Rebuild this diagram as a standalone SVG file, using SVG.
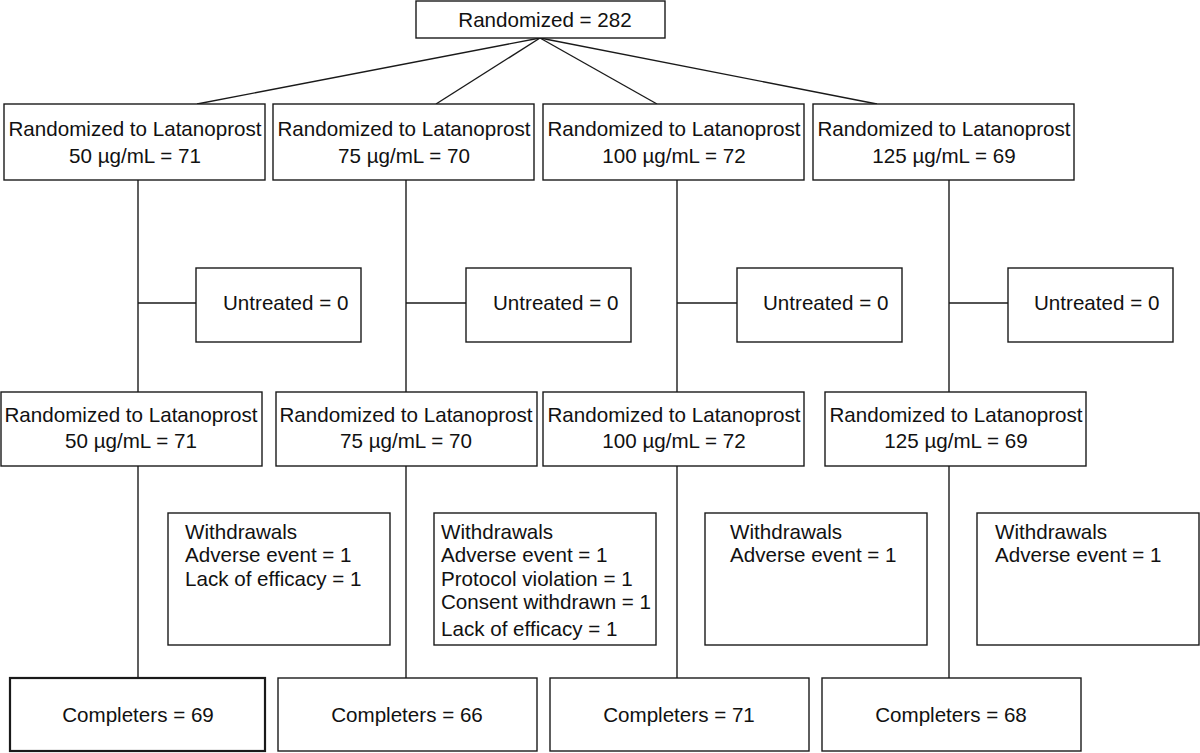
<svg xmlns="http://www.w3.org/2000/svg" width="1200" height="753" viewBox="0 0 1200 753">
<style>
rect{fill:#fff;stroke:#1a1a1a;stroke-width:1.4}
.c line{stroke:#1a1a1a;stroke-width:1.4}
text{font-family:"Liberation Sans",Arial,sans-serif;font-size:20.6px;fill:#111}
.m{text-anchor:middle}
</style>
<rect x="0" y="0" width="1200" height="753" style="stroke:none"/>
<g class="c" id="connectors">
<line x1="540" y1="38" x2="197" y2="104"/>
<line x1="540" y1="38" x2="436" y2="104"/>
<line x1="540" y1="38" x2="657" y2="104"/>
<line x1="540" y1="38" x2="877" y2="104"/>
<line x1="138" y1="180" x2="138" y2="392"/>
<line x1="406" y1="180" x2="406" y2="392"/>
<line x1="677" y1="180" x2="677" y2="392"/>
<line x1="949" y1="180" x2="949" y2="392"/>
<line x1="138" y1="303" x2="196" y2="303"/>
<line x1="406" y1="303" x2="466" y2="303"/>
<line x1="677" y1="303" x2="737" y2="303"/>
<line x1="949" y1="303" x2="1008" y2="303"/>
<line x1="138" y1="466" x2="138" y2="678"/>
<line x1="406" y1="466" x2="406" y2="678"/>
<line x1="677" y1="466" x2="677" y2="678"/>
<line x1="949" y1="466" x2="949" y2="678"/>
</g>
<g id="top"><rect x="416" y="1" width="249" height="37"/><text class="m" x="545" y="26.5">Randomized = 282</text></g>
<g id="r1a"><rect x="4" y="104" width="261" height="76"/><text class="m" x="135" y="136">Randomized to Latanoprost</text><text class="m" x="135" y="163">50 µg/mL = 71</text></g>
<g id="r1b"><rect x="273" y="104" width="261" height="76"/><text class="m" x="404" y="136">Randomized to Latanoprost</text><text class="m" x="404" y="163">75 µg/mL = 70</text></g>
<g id="r1c"><rect x="543" y="104" width="261" height="76"/><text class="m" x="674" y="136">Randomized to Latanoprost</text><text class="m" x="674" y="163">100 µg/mL = 72</text></g>
<g id="r1d"><rect x="813" y="104" width="261" height="76"/><text class="m" x="944" y="136">Randomized to Latanoprost</text><text class="m" x="944" y="163">125 µg/mL = 69</text></g>
<g id="u1"><rect x="196" y="268" width="165" height="74"/><text x="223" y="310">Untreated = 0</text></g>
<g id="u2"><rect x="466" y="268" width="165" height="74"/><text x="493" y="310">Untreated = 0</text></g>
<g id="u3"><rect x="737" y="268" width="165" height="74"/><text x="763" y="310">Untreated = 0</text></g>
<g id="u4"><rect x="1008" y="268" width="165" height="74"/><text x="1034" y="310">Untreated = 0</text></g>
<g id="r2a"><rect x="1" y="392" width="261" height="74"/><text class="m" x="131" y="422">Randomized to Latanoprost</text><text class="m" x="131" y="448">50 µg/mL = 71</text></g>
<g id="r2b"><rect x="276" y="392" width="261" height="74"/><text class="m" x="406" y="422">Randomized to Latanoprost</text><text class="m" x="406" y="448">75 µg/mL = 70</text></g>
<g id="r2c"><rect x="543" y="392" width="261" height="74"/><text class="m" x="674" y="422">Randomized to Latanoprost</text><text class="m" x="674" y="448">100 µg/mL = 72</text></g>
<g id="r2d"><rect x="825" y="392" width="261" height="74"/><text class="m" x="956" y="422">Randomized to Latanoprost</text><text class="m" x="956" y="448">125 µg/mL = 69</text></g>
<g id="w1"><rect x="168" y="513" width="222" height="132"/><text x="185" y="539">Withdrawals</text><text x="185" y="562">Adverse event = 1</text><text x="185" y="586">Lack of efficacy = 1</text></g>
<g id="w2"><rect x="434" y="513" width="222" height="132"/><text x="441" y="539">Withdrawals</text><text x="441" y="562">Adverse event = 1</text><text x="441" y="586">Protocol violation = 1</text><text x="441" y="609">Consent withdrawn = 1</text><text x="441" y="636">Lack of efficacy = 1</text></g>
<g id="w3"><rect x="705" y="513" width="222" height="132"/><text x="730" y="539">Withdrawals</text><text x="730" y="562">Adverse event = 1</text></g>
<g id="w4"><rect x="977" y="513" width="222" height="132"/><text x="995" y="539">Withdrawals</text><text x="995" y="562">Adverse event = 1</text></g>
<g id="c1"><rect x="10" y="678" width="255" height="73" style="stroke-width:2.2"/><text class="m" x="138" y="722">Completers = 69</text></g>
<g id="c2"><rect x="278" y="678" width="259" height="73"/><text class="m" x="407" y="722">Completers = 66</text></g>
<g id="c3"><rect x="550" y="678" width="259" height="73"/><text class="m" x="679" y="722">Completers = 71</text></g>
<g id="c4"><rect x="822" y="678" width="259" height="73"/><text class="m" x="951" y="722">Completers = 68</text></g>
</svg>
